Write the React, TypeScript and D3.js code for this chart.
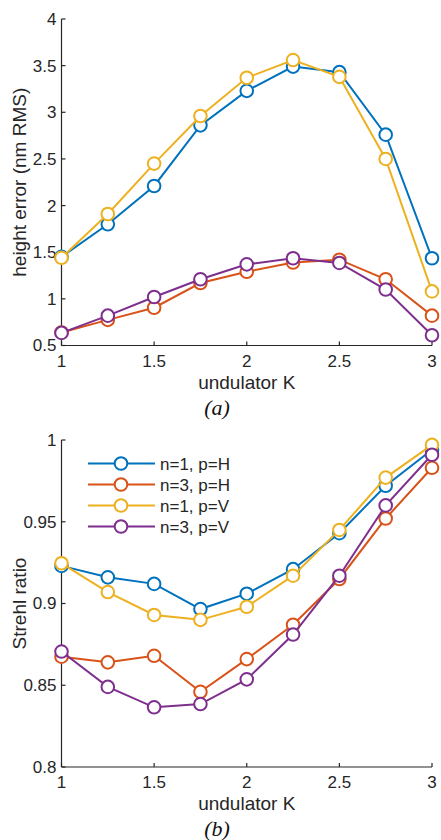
import React from "react";
import * as d3 from "d3";

const K = [1, 1.25, 1.5, 1.75, 2, 2.25, 2.5, 2.75, 3];
const seriesNames = ["n=1, p=H", "n=3, p=H", "n=1, p=V", "n=3, p=V"];
const seriesColors = ["#0072BD", "#D95319", "#EDB120", "#7E2F8E"];

// panel (a): height error (nm RMS)
const errN1H = [1.45, 1.8, 2.21, 2.86, 3.23, 3.49, 3.43, 2.76, 1.435];
const errN3H = [0.64, 0.775, 0.905, 1.17, 1.29, 1.39, 1.42, 1.21, 0.82];
const errN1V = [1.44, 1.91, 2.45, 2.96, 3.37, 3.56, 3.38, 2.5, 1.08];
const errN3V = [0.635, 0.82, 1.02, 1.21, 1.37, 1.435, 1.385, 1.1, 0.61];

// panel (b): Strehl ratio
const strN1H = [0.923, 0.916, 0.912, 0.8966, 0.906, 0.921, 0.943, 0.972, 0.994];
const strN3H = [0.8675, 0.864, 0.868, 0.846, 0.866, 0.887, 0.915, 0.952, 0.983];
const strN1V = [0.9246, 0.907, 0.893, 0.89, 0.898, 0.917, 0.945, 0.977, 0.997];
const strN3V = [0.8706, 0.849, 0.8365, 0.8385, 0.8536, 0.881, 0.917, 0.96, 0.991];

const xTicks = [1, 1.5, 2, 2.5, 3];
const xTickLabels = ["1", "1.5", "2", "2.5", "3"];
const yTicksA = [0.5, 1, 1.5, 2, 2.5, 3, 3.5, 4];
const yTickLabelsA = ["0.5", "1", "1.5", "2", "2.5", "3", "3.5", "4"];
const yTicksB = [0.8, 0.85, 0.9, 0.95, 1];
const yTickLabelsB = ["0.8", "0.85", "0.9", "0.95", "1"];

const FONT = "'Liberation Sans', Arial, Helvetica, sans-serif";
const AX = "#262626";

type PanelProps = {
  data: number[][];
  yDomain: [number, number];
  yRange: [number, number];
  yTicks: number[];
  yTickLabels: string[];
  yLabel: string;
  caption: string;
  legend?: boolean;
};

function Panel({ data, yDomain, yRange, yTicks, yTickLabels, yLabel, caption, legend }: PanelProps) {
  const x = d3.scaleLinear().domain([1, 3]).range([61.5, 432]);
  const y = d3.scaleLinear().domain(yDomain).range(yRange);
  const line = d3
    .line<[number, number]>()
    .x((d) => x(d[0]))
    .y((d) => y(d[1]));
  const y0 = yRange[0];
  const y1 = yRange[1];
  const x0 = x(1);
  const x1 = x(3);
  const midY = (y0 + y1) / 2;
  return (
    <g>
      {/* axes */}
      <line x1={x0} y1={y0} x2={x1} y2={y0} stroke={AX} strokeWidth={1.2} />
      <line x1={x0} y1={y0} x2={x0} y2={y1} stroke={AX} strokeWidth={1.2} />
      {xTicks.map((t, i) => (
        <g key={"xt" + i}>
          <line x1={x(t)} x2={x(t)} y1={y0} y2={y0 - 4} stroke={AX} strokeWidth={1.2} />
          <text x={x(t)} y={y0 + 21} textAnchor="middle" fontFamily={FONT} fontSize={17} fill={AX}>
            {xTickLabels[i]}
          </text>
        </g>
      ))}
      {yTicks.map((t, i) => (
        <g key={"yt" + i}>
          <line x1={x0} x2={x0 + 4} y1={y(t)} y2={y(t)} stroke={AX} strokeWidth={1.2} />
          <text x={x0 - 5} y={y(t)} dy="0.35em" textAnchor="end" fontFamily={FONT} fontSize={17} fill={AX}>
            {yTickLabels[i]}
          </text>
        </g>
      ))}
      <text x={(x0 + x1) / 2} y={y0 + 43} textAnchor="middle" fontFamily={FONT} fontSize={19} fill={AX}>
        undulator K
      </text>
      <text
        transform={`translate(26,${midY}) rotate(-90)`}
        textAnchor="middle"
        fontFamily={FONT}
        fontSize={19}
        fill={AX}
      >
        {yLabel}
      </text>
      <text
        x={217}
        y={y0 + 69}
        textAnchor="middle"
        fontFamily="'Liberation Serif', 'Times New Roman', serif"
        fontStyle="italic"
        fontSize={22}
        fill="#111"
      >
        {caption}
      </text>
      {/* series */}
      {data.map((vals, si) => {
        const pts = K.map((k, i) => [k, vals[i]] as [number, number]);
        return (
          <g key={"s" + si}>
            <path d={line(pts) || ""} fill="none" stroke={seriesColors[si]} strokeWidth={2} />
            {pts.map((p, i) => (
              <circle
                key={i}
                cx={x(p[0])}
                cy={y(p[1])}
                r={6.3}
                fill="#fff"
                stroke={seriesColors[si]}
                strokeWidth={2}
              />
            ))}
          </g>
        );
      })}
      {legend &&
        seriesNames.map((name, i) => {
          const ly = 463.5 + i * 21;
          return (
            <g key={"lg" + i}>
              <line x1={88} x2={155} y1={ly} y2={ly} stroke={seriesColors[i]} strokeWidth={2} />
              <circle cx={121} cy={ly} r={6.3} fill="#fff" stroke={seriesColors[i]} strokeWidth={2} />
              <text x={160} y={ly} dy="0.36em" fontFamily={FONT} fontSize={17} fill={AX}>
                {name}
              </text>
            </g>
          );
        })}
    </g>
  );
}

export default function App() {
  return (
    <svg
      width={441}
      height={840}
      style={{ position: "absolute", left: 0, top: 0, background: "#fff" }}
    >
      <rect width={441} height={840} fill="#fff" />
      <Panel
        data={[errN1H, errN3H, errN1V, errN3V]}
        yDomain={[0.5, 4]}
        yRange={[345.5, 19]}
        yTicks={yTicksA}
        yTickLabels={yTickLabelsA}
        yLabel="height error (nm RMS)"
        caption="(a)"
      />
      <Panel
        data={[strN1H, strN3H, strN1V, strN3V]}
        yDomain={[0.8, 1]}
        yRange={[767, 440]}
        yTicks={yTicksB}
        yTickLabels={yTickLabelsB}
        yLabel="Strehl ratio"
        caption="(b)"
        legend
      />
    </svg>
  );
}
